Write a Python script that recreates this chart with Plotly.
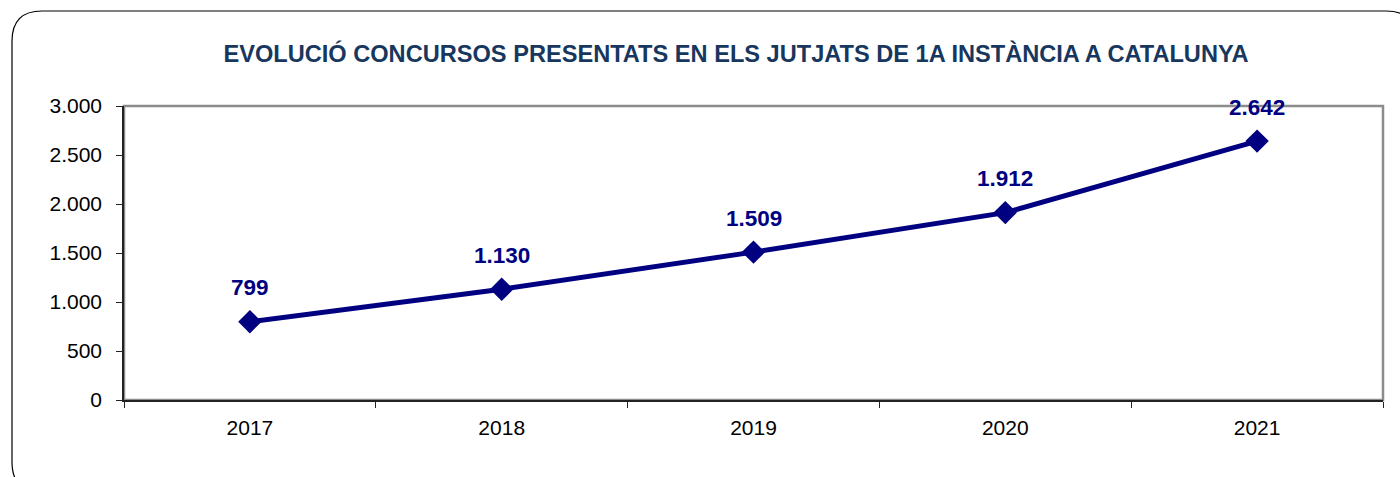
import plotly.graph_objects as go

years = ["2017", "2018", "2019", "2020", "2021"]
values = [799, 1130, 1509, 1912, 2642]
labels = ["799", "1.130", "1.509", "1.912", "2.642"]
title_text = "EVOLUCIÓ CONCURSOS PRESENTATS EN ELS JUTJATS DE 1A INSTÀNCIA A CATALUNYA"

W, H = 1400, 477
L, R, T, B = 124, 17, 106, 77
PW, PH = W - L - R, H - T - B

def px(x):
    return (x - L) / PW

def py(y):
    return (H - B - y) / PH

NAVY = "#000080"
FONT = "Liberation Sans, Arial, sans-serif"

fig = go.Figure()
fig.add_trace(go.Scatter(
    x=years, y=values, mode="lines+markers",
    line=dict(color=NAVY, width=5),
    marker=dict(symbol="diamond", size=18, color=NAVY),
    cliponaxis=False, hoverinfo="skip", showlegend=False,
))

for i, (v, lab) in enumerate(zip(values, labels)):
    fig.add_annotation(x=i, y=v, xref="x", yref="y", text="<b>%s</b>" % lab, showarrow=False,
                       yshift=34, font=dict(family=FONT, size=22.5, color=NAVY))

# rounded outer frame
x0, y0, x1, y1, r = 12, 11, 1416, 492, 30
path = (f"M {px(x0)},{py(y0 + r)} "
        f"Q {px(x0)},{py(y0)} {px(x0 + r)},{py(y0)} "
        f"L {px(x1 - r)},{py(y0)} "
        f"Q {px(x1)},{py(y0)} {px(x1)},{py(y0 + r)} "
        f"L {px(x1)},{py(y1 - r)} "
        f"Q {px(x1)},{py(y1)} {px(x1 - r)},{py(y1)} "
        f"L {px(x0 + r)},{py(y1)} "
        f"Q {px(x0)},{py(y1)} {px(x0)},{py(y1 - r)} Z")
fig.add_shape(type="path", xref="paper", yref="paper", path=path,
              line=dict(color="#000000", width=1.2), layer="below")
# plot area border (gray)
fig.add_shape(type="rect", xref="paper", yref="paper", x0=0, y0=0, x1=1, y1=1,
              line=dict(color="#8c8c8c", width=2.5), layer="below")

fig.update_layout(
    width=W, height=H,
    margin=dict(l=L, r=R, t=T, b=B, pad=0),
    paper_bgcolor="white", plot_bgcolor="white",
    separators=",.",
    font=dict(family=FONT, color="black", size=21),
    title=dict(text="<b>%s</b>" % title_text, x=736 / W, xanchor="center",
               y=1 - 54 / H, yanchor="middle",
               font=dict(family=FONT, size=23.6, color="#17375E")),
    xaxis=dict(type="category", range=[-0.5, 4.5], showgrid=False, zeroline=False,
               showline=True, linecolor="#222222", linewidth=1.5,
               ticks="outside", ticklen=6, tickcolor="#222222", tickwidth=1.2,
               tickson="boundaries", ticklabelstandoff=8,
               tickfont=dict(size=21)),
    yaxis=dict(range=[0, 3000], dtick=500, tickformat=",d", showgrid=False, zeroline=False,
               showline=True, linecolor="#222222", linewidth=1.5,
               ticks="outside", ticklen=6, tickcolor="#222222", tickwidth=1.2,
               ticklabelstandoff=10, tickfont=dict(size=21)),
)

fig.write_html("out.html", config={"displayModeBar": False},
               post_script="document.body.style.margin='0';document.body.style.overflow='hidden';")
